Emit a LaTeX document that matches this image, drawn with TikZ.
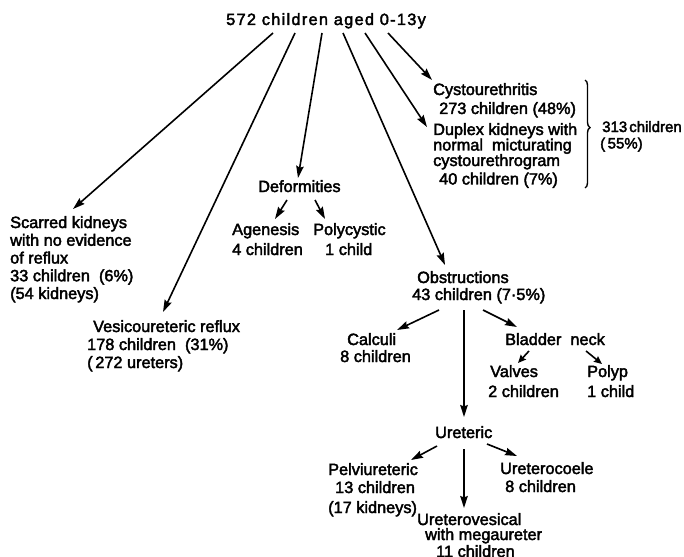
\documentclass[tikz,border=0pt]{standalone}
\usepackage{fontspec}
\setmainfont{Liberation Sans}[FakeBold=2.5]
\usetikzlibrary{arrows.meta,decorations.pathreplacing}
\newcommand\blk[1]{\begin{tabular}[t]{@{}l@{}}#1\end{tabular}}
\begin{document}
\begin{tikzpicture}[x=1pt,y=-1pt,
  txt/.style={anchor=base west,inner sep=0pt,font=\fontsize{16.3}{17.5}\selectfont},
  arr/.style={line width=1.6pt,-{Stealth[length=12pt,width=7.5pt,inset=1.5pt]}},
  sarr/.style={line width=1.6pt,-{Stealth[length=8pt,width=7pt,inset=1pt]}}]
\useasboundingbox (0,0) rectangle (684,556);
% texts
\node[txt] (title) at (226,25) {\addfontfeature{LetterSpace=8}572 children aged 0-13y};
\node[txt] (cys) at (433,95) {\blk{Cystourethritis\\[1.5pt] \hspace{6pt}273 children (48\%)}};
\node[txt] (dup) at (433,135) {\blk{Duplex kidneys with\\[-2pt] normal\ \ micturating\\[-2pt] cystourethrogram\\[1pt] \hspace{6pt}40 children (7\%)}};
\node[txt,font=\fontsize{15}{17.5}\selectfont] (tot) at (600,132) {\blk{\hspace{2pt}313\hspace{2pt}children\\[-1pt] (\,55\%)}};
\node[txt] (scar) at (10,228) {\blk{Scarred kidneys\\[0.25pt] with no evidence\\[0.25pt] of reflux\\[0.25pt] 33 children\ \ (6\%)\\[0.25pt] (54 kidneys)}};
\node[txt] (ves) at (87,332) {\blk{\hspace{6pt}Vesicoureteric reflux\\[0.5pt] 178 children\ \ (31\%)\\[0.5pt] (\,272 ureters)}};
\node[txt] (def) at (258,192) {Deformities};
\node[txt] (age) at (232,235) {\blk{Agenesis\\[2.5pt] 4 children}};
\node[txt] (pol) at (313,235) {\blk{Polycystic\\[2.5pt] \hspace{12pt}1 child}};
\node[txt] (obs) at (412,283) {\blk{\hspace{5pt}Obstructions\\[-0.5pt] 43 children (7·5\%)}};
\node[txt] (cal) at (340,345) {\blk{\hspace{7pt}Calculi\\[-0.5pt] 8 children}};
\node[txt] (bla) at (505,345) {Bladder\ \ neck};
\node[txt] (val) at (488,377) {\blk{\hspace{2pt}Valves\\[2.5pt] 2 children}};
\node[txt] (plp) at (587,377) {\blk{Polyp\\[2.5pt] 1 child}};
\node[txt] (ure) at (435,438) {Ureteric};
\node[txt] (pel) at (328,475) {\blk{Pelviureteric\\[0.5pt] \hspace{7pt}13 children\\[2.5pt] (17 kidneys)}};
\node[txt] (coe) at (500,474) {\blk{Ureterocoele\\[0.5pt] \hspace{5pt}8 children}};
\node[txt] (ves2) at (417,525) {\blk{Ureterovesical\\[-2.5pt] \hspace{8pt}with megaureter\\[-0.5pt] \hspace{19pt}11 children}};
% connector end points
\coordinate (t1) at (273,33); \coordinate (e1) at (73,209);
\coordinate (t2) at (295,33); \coordinate (e2) at (163,312);
\coordinate (t3) at (322,33); \coordinate (e3) at (298,178);
\coordinate (t4) at (343,33); \coordinate (e4) at (445,265);
\coordinate (t5) at (365,33); \coordinate (e5) at (427,127);
\coordinate (t6) at (388,33); \coordinate (e6) at (432,80);
\coordinate (d1) at (287,200); \coordinate (f1) at (275,219);
\coordinate (d2) at (315,200); \coordinate (f2) at (325,219);
\coordinate (o1) at (439,310); \coordinate (p1) at (397,330);
\coordinate (o2) at (464,310); \coordinate (p2) at (464,417);
\coordinate (o3) at (483,310); \coordinate (p3) at (517,327);
\coordinate (b1) at (529,351); \coordinate (c1) at (518,363);
\coordinate (b2) at (586,351); \coordinate (c2) at (602,364);
\coordinate (u1) at (437,446); \coordinate (v1) at (411,460);
\coordinate (u2) at (464,449); \coordinate (v2) at (464,508);
\coordinate (u3) at (487,444); \coordinate (v3) at (517,456);
% connectors
\draw[arr] (t1) -- (e1);
\draw[arr] (t2) -- (e2);
\draw[arr] (t3) -- (e3);
\draw[arr] (t4) -- (e4);
\draw[arr] (t5) -- (e5);
\draw[arr] (t6) -- (e6);
\draw[arr] (d1) -- (f1);
\draw[arr] (d2) -- (f2);
\draw[arr] (o1) -- (p1);
\draw[arr] (o2) -- (p2);
\draw[arr] (o3) -- (p3);
\draw[sarr] (b1) -- (c1);
\draw[sarr] (b2) -- (c2);
\draw[arr] (u1) -- (v1);
\draw[arr] (u2) -- (v2);
\draw[arr] (u3) -- (v3);
% brace
\coordinate (br1) at (585,80); \coordinate (br2) at (585,188);
\draw[line width=1.4pt,decorate,decoration={brace,amplitude=5pt,aspect=0.44}] (br1) -- (br2);
\end{tikzpicture}
\end{document}
